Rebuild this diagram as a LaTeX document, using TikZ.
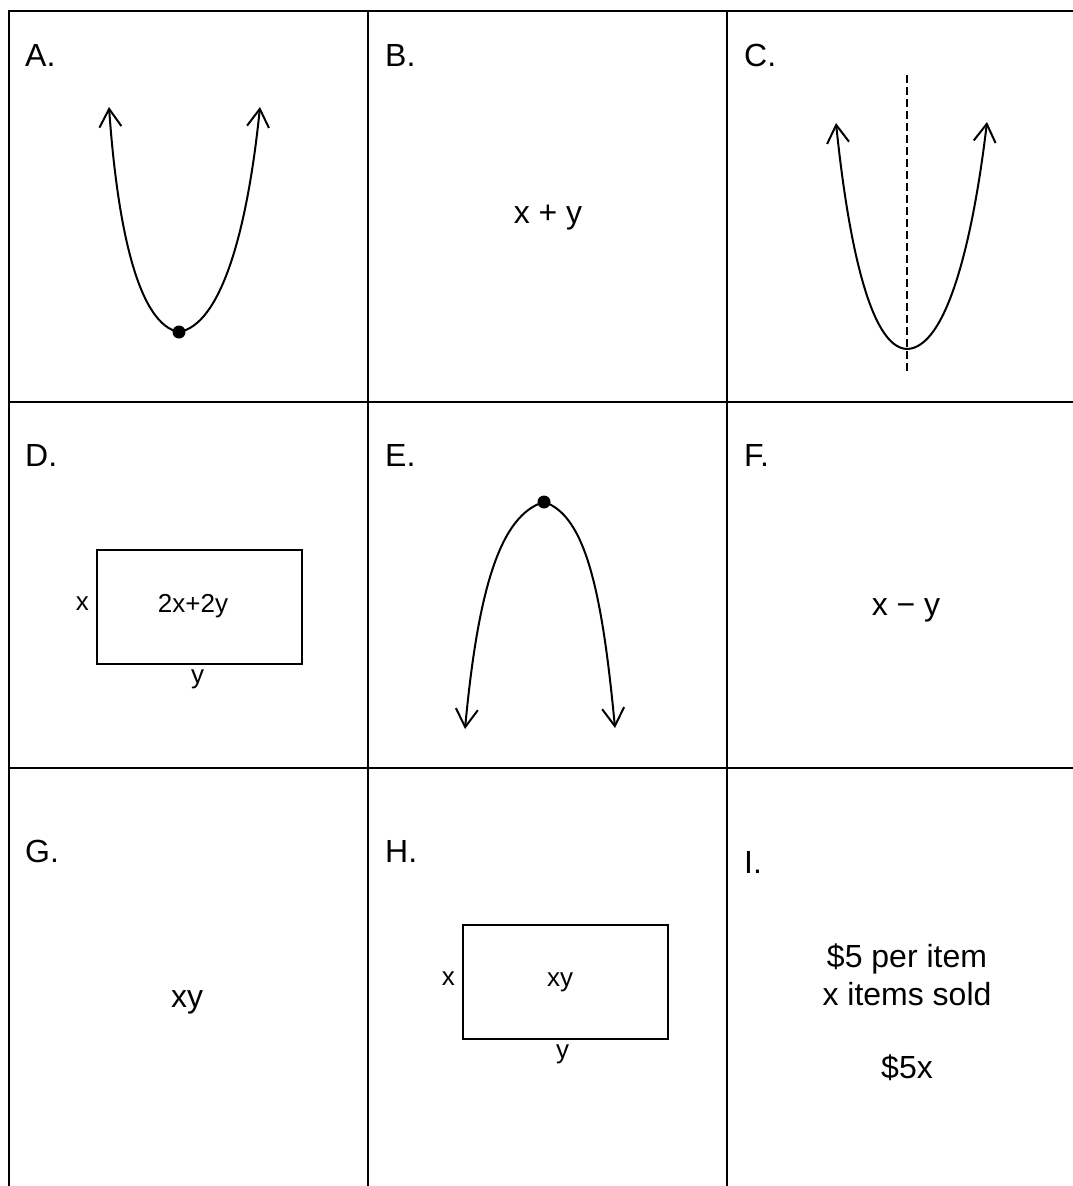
\documentclass[tikz,border=0pt]{standalone}
\usepackage{fontspec}
\setmainfont{Liberation Sans}
\usetikzlibrary{arrows.meta}
\begin{document}
\begin{tikzpicture}[x=1pt,y=-1pt,
  grid/.style={line width=1.8pt},
  curve/.style={line width=2pt},
  barb/.style={-{Straight Barb[length=18pt,width=22pt,line width=2pt]}},
  lbl/.style={anchor=base west,inner sep=0pt,font=\fontsize{32}{38}\selectfont},
  big/.style={inner sep=0pt,font=\fontsize{32}{38}\selectfont},
  small/.style={inner sep=0pt,font=\fontsize{26}{31}\selectfont},
  rect/.style={draw,line width=1.8pt},
  vdot/.style={circle,fill,inner sep=0pt,minimum size=13pt}]
\useasboundingbox (0,0) rectangle (1073,1186);
% grid
\draw[grid] (1073,11) -- (9,11) -- (9,1186);
\draw[grid] (368,11) -- (368,1186);
\draw[grid] (727,11) -- (727,1186);
\draw[grid] (9,402) -- (1073,402);
\draw[grid] (9,768) -- (1073,768);
% labels
\node[lbl] (la) at (25,66) {A.};
\node[lbl] (lb) at (385,66) {B.};
\node[lbl] (lc) at (744,66) {C.};
\node[lbl] (ld) at (25,466) {D.};
\node[lbl] (le) at (385,466) {E.};
\node[lbl] (lf) at (744,466) {F.};
\node[lbl] (lg) at (25,862) {G.};
\node[lbl] (lh) at (385,862) {H.};
\node[lbl] (li) at (744,873) {I.};
% A parabola
\node[vdot] (va) at (179,332) {};
\coordinate (atl) at (109,107);
\coordinate (atr) at (260,107);
\draw[curve,barb] (va.center) .. controls (140,325) and (118,235) .. (atl);
\draw[curve,barb] (va.center) .. controls (220,325) and (247,235) .. (atr);
% B
\node[big] (tb) at (548,218) {x + y};
% C parabola
\coordinate (vc) at (907,349);
\coordinate (ctl) at (836,123);
\coordinate (ctr) at (987,122);
\draw[curve,barb] (vc) .. controls (870,348) and (848,240) .. (ctl);
\draw[curve,barb] (vc) .. controls (947,348) and (973,240) .. (ctr);
\coordinate (ct) at (907,75);
\coordinate (cb) at (907,374);
\draw[line width=1.6pt,dash pattern=on 8pt off 4pt] (ct) -- (cb);
% D rectangle
\node[rect,minimum width=205pt,minimum height=114pt] (rd) at (199.5,607) {};
\node[small] (rdt) at (193,606) {2x+2y};
\node[small,anchor=east] (rdx) at ([xshift=-7pt,yshift=3pt]rd.west) {x};
\node[small,anchor=north] (rdy) at ([xshift=-2pt,yshift=-5pt]rd.south) {y};
% E parabola
\node[vdot] (ve) at (544,502) {};
\coordinate (etl) at (465,729);
\coordinate (etr) at (615,728);
\draw[curve,barb] (ve.center) .. controls (500,515) and (478,590) .. (etl);
\draw[curve,barb] (ve.center) .. controls (585,515) and (602,590) .. (etr);
% F
\node[big] (tf) at (906,610) {x − y};
% G
\node[big] (tg) at (187,1002) {xy};
% H rectangle
\node[rect,minimum width=205pt,minimum height=114pt] (rh) at (565.5,982) {};
\node[small] (rht) at (560,982) {xy};
\node[small,anchor=east] (rhx) at ([xshift=-7pt,yshift=3pt]rh.west) {x};
\node[small,anchor=north] (rhy) at ([xshift=-3pt,yshift=-5pt]rh.south) {y};
% I
\node[big] (ti1) at (907,959) {\$5 per item};
\node[big] (ti2) at (907,994) {x items sold};
\node[big] (ti3) at (907,1068) {\$5x};
\end{tikzpicture}
\end{document}
